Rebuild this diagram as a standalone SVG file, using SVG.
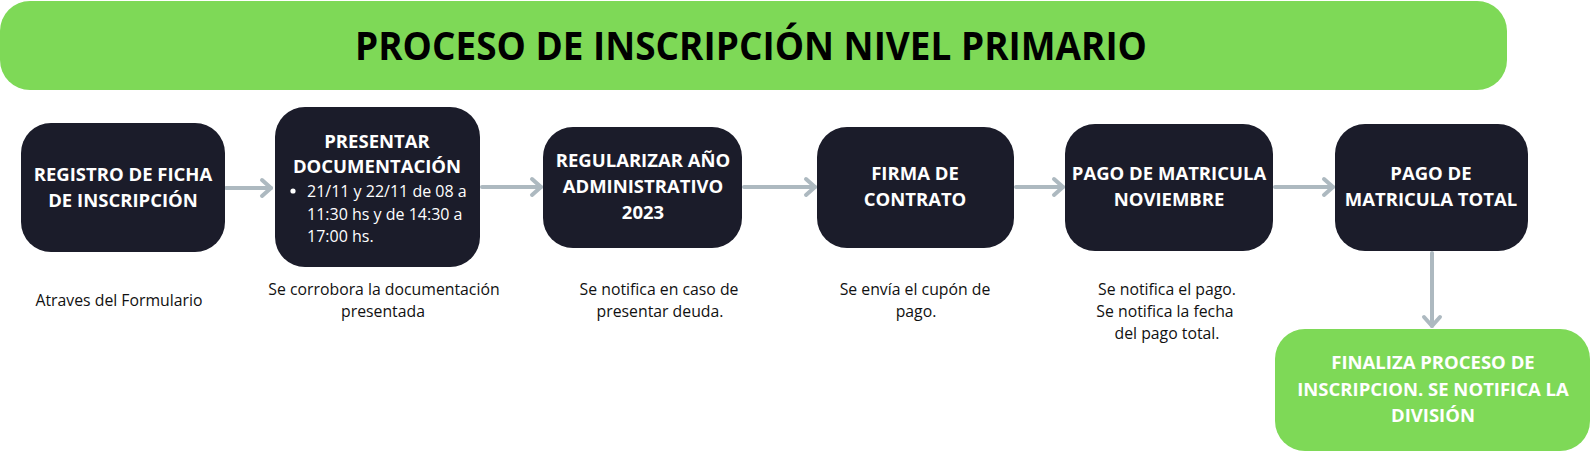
<svg xmlns="http://www.w3.org/2000/svg" width="1592" height="452" viewBox="0 0 1592 452">
<defs>
<style>
.node{fill:#1b1c2a}
.green{fill:#7ed957}
.nt{font-family:"Open Sans","Liberation Sans",sans-serif;font-weight:700;font-size:18.5px;fill:#ffffff;text-anchor:middle}
.bt{font-family:"Open Sans","Liberation Sans",sans-serif;font-weight:400;font-size:16px;fill:#ffffff}
.cap{font-family:"Open Sans","Liberation Sans",sans-serif;font-weight:400;font-size:15.8px;fill:#111111;text-anchor:middle}
.title{font-family:"Open Sans","Liberation Sans",sans-serif;font-weight:700;font-size:39px;fill:#000000;text-anchor:middle}
.conn{fill:none;stroke:#adb9c0;stroke-width:4;stroke-linecap:round}
</style>
<marker id="arr" markerUnits="userSpaceOnUse" viewBox="0 0 14 20" refX="12" refY="10" markerWidth="14" markerHeight="20" orient="auto" overflow="visible">
<path d="M3,2 L12,10 L3,18" fill="none" stroke="#adb9c0" stroke-width="4" stroke-linecap="round" stroke-linejoin="round"/>
</marker>
</defs>
<rect width="1592" height="452" fill="#ffffff"/>

<g id="title">
<rect class="green" x="0" y="1" width="1507" height="89" rx="30"/>
<text class="title" x="751" y="60" textLength="792" lengthAdjust="spacingAndGlyphs">PROCESO DE INSCRIPCIÓN NIVEL PRIMARIO</text>
</g>

<g id="connectors">
<path class="conn" d="M226,188 H271" marker-end="url(#arr)"/>
<path class="conn" d="M482,187 H541" marker-end="url(#arr)"/>
<path class="conn" d="M744,187 H815" marker-end="url(#arr)"/>
<path class="conn" d="M1016,187 H1063" marker-end="url(#arr)"/>
<path class="conn" d="M1275,187 H1333" marker-end="url(#arr)"/>
<path class="conn" d="M1432,253 V326" marker-end="url(#arr)"/>
</g>

<g id="n1">
<rect class="node" x="21" y="123" width="204" height="129" rx="30"/>
<text class="nt" x="123" y="181">REGISTRO DE FICHA</text>
<text class="nt" x="123" y="207">DE INSCRIPCIÓN</text>
</g>

<g id="n2">
<rect class="node" x="275" y="107" width="205" height="160" rx="30"/>
<text class="nt" x="377" y="148">PRESENTAR</text>
<text class="nt" x="377" y="173">DOCUMENTACIÓN</text>
<circle cx="293" cy="191" r="2.6" fill="#ffffff"/>
<text class="bt" x="307" y="197">21/11 y 22/11 de 08 a</text>
<text class="bt" x="307" y="219.5">11:30 hs y de 14:30 a</text>
<text class="bt" x="307" y="242">17:00 hs.</text>
</g>

<g id="n3">
<rect class="node" x="543" y="127" width="199" height="121" rx="30"/>
<text class="nt" x="643" y="167">REGULARIZAR AÑO</text>
<text class="nt" x="643" y="192.5">ADMINISTRATIVO</text>
<text class="nt" x="643" y="219">2023</text>
</g>

<g id="n4">
<rect class="node" x="817" y="127" width="197" height="121" rx="30"/>
<text class="nt" x="915" y="180">FIRMA DE</text>
<text class="nt" x="915" y="206">CONTRATO</text>
</g>

<g id="n5">
<rect class="node" x="1065" y="124" width="208" height="127" rx="30"/>
<text class="nt" x="1169" y="180">PAGO DE MATRICULA</text>
<text class="nt" x="1169" y="206">NOVIEMBRE</text>
</g>

<g id="n6">
<rect class="node" x="1335" y="124" width="193" height="127" rx="30"/>
<text class="nt" x="1431" y="180">PAGO DE</text>
<text class="nt" x="1431" y="206">MATRICULA TOTAL</text>
</g>

<g id="n7">
<rect class="green" x="1275" y="329" width="315" height="122" rx="30"/>
<text class="nt" x="1433" y="369">FINALIZA PROCESO DE</text>
<text class="nt" x="1433" y="396">INSCRIPCION. SE NOTIFICA LA</text>
<text class="nt" x="1433" y="422">DIVISIÓN</text>
</g>

<g id="captions">
<text class="cap" x="119" y="306">Atraves del Formulario</text>
<text class="cap" x="384" y="295">Se corrobora la documentación</text>
<text class="cap" x="383" y="317">presentada</text>
<text class="cap" x="659" y="295">Se notifica en caso de</text>
<text class="cap" x="660" y="317">presentar deuda.</text>
<text class="cap" x="915" y="295">Se envía el cupón de</text>
<text class="cap" x="916" y="317">pago.</text>
<text class="cap" x="1167" y="295">Se notifica el pago.</text>
<text class="cap" x="1165" y="317">Se notifica la fecha</text>
<text class="cap" x="1167" y="339">del pago total.</text>
</g>
</svg>
